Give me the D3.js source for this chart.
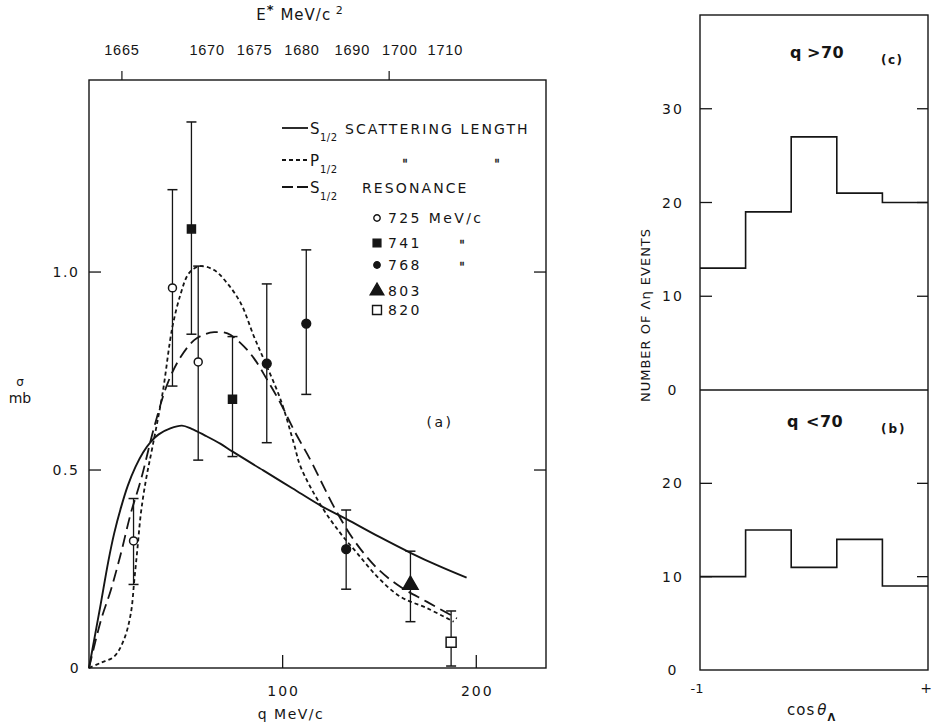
<!DOCTYPE html>
<html><head><meta charset="utf-8">
<script src="https://cdn.jsdelivr.net/npm/d3@7"></script>
<style>
body{margin:0;background:#fff;}
svg text{font-family:"DejaVu Sans",sans-serif;fill:#151515;}
</style></head><body>
<svg id="c" width="933" height="725"></svg>
<script>
// ---------- data ----------
// top axis: E* labels and the q value (MeV/c) under each label
const eStarLabels = ["1665","1670","1675","1680","1690","1700","1710"];
const eStarQ      = [17, 61, 85.5, 110, 136, 160.5, 184];
const eStarTickQ  = [17, 155];
const yTicksA     = [0, 0.5, 1.0];
const yTickLabA   = ["0", "0.5", "1.0"];
const xTicksA     = [100, 200];

// theory curves (q in MeV/c, sigma in mb)
const scatQ = [0, 3, 6, 10, 13, 16.5, 20, 24, 28, 32, 36, 42, 48, 53, 60, 68, 74, 90, 105, 120, 133, 150, 166, 180, 195];
const scatS = [0, 0.08, 0.16, 0.27, 0.34, 0.405, 0.46, 0.508, 0.545, 0.572, 0.59, 0.605, 0.612, 0.604, 0.587, 0.566, 0.547, 0.499, 0.454, 0.409, 0.376, 0.331, 0.291, 0.259, 0.228];
const pwaveQ = [0, 6, 13, 18, 21.6, 23.4, 25.1, 26.8, 29.4, 32.8, 38, 43.1, 47.4, 50.9, 54, 57.7, 64.6, 71.5, 78.4, 85.2, 90.4, 99, 105.8, 109.3, 119.6, 129.9, 138.5, 148.8, 160.8, 174.6, 188.3];
const pwaveS = [0, 0.013, 0.029, 0.071, 0.138, 0.222, 0.306, 0.391, 0.475, 0.559, 0.694, 0.862, 0.946, 0.992, 1.008, 1.015, 1.005, 0.971, 0.921, 0.837, 0.778, 0.677, 0.567, 0.508, 0.412, 0.340, 0.290, 0.231, 0.180, 0.151, 0.117];
const resQ = [0, 6.2, 11.3, 16.5, 21.6, 26.8, 33.7, 40.6, 47.4, 54.3, 60, 64.6, 71.5, 78.4, 85.2, 92.1, 99, 105.8, 114.4, 121, 126.5, 136.8, 148.8, 160.8, 174.6, 190];
const resS = [0, 0.121, 0.197, 0.29, 0.391, 0.475, 0.609, 0.719, 0.786, 0.828, 0.843, 0.848, 0.845, 0.820, 0.782, 0.727, 0.668, 0.601, 0.525, 0.46, 0.407, 0.323, 0.252, 0.205, 0.167, 0.125];

// measured points, per beam momentum
const q725 = [23.0, 43.1, 56.4],  s725 = [0.321, 0.960, 0.773], lo725 = [0.211, 0.712, 0.525], hi725 = [0.428, 1.208, 1.015];
const q741 = [52.9, 74.1],        s741 = [1.109, 0.679],        lo741 = [0.843, 0.534],        hi741 = [1.379, 0.837];
const q768 = [91.8, 112.2, 132.8],s768 = [0.769, 0.870, 0.300], lo768 = [0.569, 0.691, 0.199], hi768 = [0.970, 1.056, 0.399];
const q803 = [166],               s803 = [0.210],               lo803 = [0.117],               hi803 = [0.295];
const q820 = [187],               s820 = [0.065],               lo820 = [0.005],               hi820 = [0.144];

// histograms of cos(theta_Lambda)
const cosEdges   = [-1, -0.6, -0.2, 0.2, 0.6, 1];
const countsHigh = [13, 19, 27, 21, 20];   // q > 70
const countsLow  = [10, 15, 11, 14, 9];    // q < 70
const yTicksHigh = [0, 10, 20, 30];
const yTicksLow  = [0, 10, 20];

// ---------- drawing ----------
const svg = d3.select("#c");
const ink = "#151515";

// left panel scales
const L = {x0: 89, x1: 546, y0: 668, y1: 80};
const x = d3.scaleLinear([0, 236], [L.x0, L.x1]);
const y = d3.scaleLinear([0, 1.485], [L.y0, L.y1]);

const gA = svg.append("g");
gA.append("rect").attr("x", L.x0).attr("y", L.y1).attr("width", L.x1 - L.x0).attr("height", L.y0 - L.y1)
  .attr("fill", "none").attr("stroke", ink).attr("stroke-width", 1.4);

// y ticks (left inward & right inward)
yTicksA.filter(v => v > 0).forEach(v => {
  gA.append("line").attr("x1", L.x0).attr("x2", L.x0 + 12).attr("y1", y(v)).attr("y2", y(v)).attr("stroke", ink).attr("stroke-width", 1.3);
  gA.append("line").attr("x1", L.x1).attr("x2", L.x1 - 12).attr("y1", y(v)).attr("y2", y(v)).attr("stroke", ink).attr("stroke-width", 1.3);
});
yTicksA.forEach((v, i) => {
  gA.append("text").attr("x", v === 0 ? 75 : 66).attr("y", y(v)).attr("dy", "0.36em").attr("text-anchor", "middle")
    .style("font-size", "14px").style("letter-spacing", "1.5px").text(yTickLabA[i]);
});
// x ticks
xTicksA.forEach(v => {
  gA.append("line").attr("x1", x(v)).attr("x2", x(v)).attr("y1", L.y0).attr("y2", L.y0 - 13).attr("stroke", ink).attr("stroke-width", 1.3);
  gA.append("text").attr("x", x(v) + 1).attr("y", 696).attr("text-anchor", "middle")
    .style("font-size", "14px").style("letter-spacing", "2px").text(v);
});
gA.append("text").attr("x", 291).attr("y", 719).attr("text-anchor", "middle")
  .style("font-size", "14px").style("letter-spacing", "1.5px").text("q MeV/c");

// y label sigma / mb
gA.append("text").attr("x", 20).attr("y", 386).attr("text-anchor", "middle").style("font-size", "12px").text("σ");
gA.append("text").attr("x", 20).attr("y", 403).attr("text-anchor", "middle").style("font-size", "14px").text("mb");

// top axis (E*)
eStarTickQ.forEach(q => {
  gA.append("line").attr("x1", x(q)).attr("x2", x(q)).attr("y1", L.y1).attr("y2", L.y1 - 9).attr("stroke", ink).attr("stroke-width", 1.2);
});
eStarLabels.forEach((t, i) => {
  gA.append("text").attr("x", x(eStarQ[i])).attr("y", 55).attr("text-anchor", "middle")
    .style("font-family", "'Liberation Sans', sans-serif").style("font-size", "14.5px").style("letter-spacing", "0.8px").text(t);
});
const et = gA.append("text").attr("x", 300).attr("y", 20).attr("text-anchor", "middle").style("font-size", "15px").style("letter-spacing", "1px");
et.append("tspan").text("E");
et.append("tspan").attr("dy", -6).style("font-size", "13px").style("font-weight", "bold").text("*");
et.append("tspan").attr("dy", 6).text(" MeV/c");
et.append("tspan").attr("dy", -6).style("font-size", "11px").text(" 2");

// curves
const mk = (qs, ss) => qs.map((q, i) => [q, ss[i]]);
const line = d3.line().x(d => x(d[0])).y(d => y(d[1])).curve(d3.curveCatmullRom.alpha(0.5));
gA.append("path").attr("d", line(mk(scatQ, scatS))).attr("fill", "none").attr("stroke", ink).attr("stroke-width", 1.9);
gA.append("path").attr("d", line(mk(pwaveQ, pwaveS))).attr("fill", "none").attr("stroke", ink).attr("stroke-width", 1.8).attr("stroke-dasharray", "4,3");
gA.append("path").attr("d", line(mk(resQ, resS))).attr("fill", "none").attr("stroke", ink).attr("stroke-width", 1.8).attr("stroke-dasharray", "12,6");

// error bars & markers
const series = [
  {q: q725, s: s725, lo: lo725, hi: hi725, sym: d3.symbolCircle, size: 50, fill: "#fff"},
  {q: q741, s: s741, lo: lo741, hi: hi741, sym: d3.symbolSquare, size: 64, fill: ink},
  {q: q768, s: s768, lo: lo768, hi: hi768, sym: d3.symbolCircle, size: 60, fill: ink},
  {q: q803, s: s803, lo: lo803, hi: hi803, sym: d3.symbolTriangle, size: 100, fill: ink},
  {q: q820, s: s820, lo: lo820, hi: hi820, sym: d3.symbolSquare, size: 100, fill: "#fff"}
];
series.forEach(sr => {
  sr.q.forEach((q, i) => {
    const cx = x(q);
    gA.append("line").attr("x1", cx).attr("x2", cx).attr("y1", y(sr.lo[i])).attr("y2", y(sr.hi[i])).attr("stroke", ink).attr("stroke-width", 1.3);
    [sr.lo[i], sr.hi[i]].forEach(v => gA.append("line").attr("x1", cx - 5).attr("x2", cx + 5).attr("y1", y(v)).attr("y2", y(v)).attr("stroke", ink).attr("stroke-width", 1.5));
    gA.append("path").attr("d", d3.symbol(sr.sym, sr.size)()).attr("transform", `translate(${cx},${y(sr.s[i])})`)
      .attr("fill", sr.fill).attr("stroke", ink).attr("stroke-width", 1.5);
  });
});

// legend - lines
const legLines = [
  {y: 128, dash: null, main: "S", rest: "SCATTERING LENGTH", restX: 345},
  {y: 160, dash: "4,3", main: "P", rest: "", restX: 0},
  {y: 187, dash: "11,4", main: "S", rest: "RESONANCE", restX: 362}
];
legLines.forEach(r => {
  const l = gA.append("line").attr("x1", 282).attr("x2", 308).attr("y1", r.y).attr("y2", r.y).attr("stroke", ink).attr("stroke-width", 1.8);
  if (r.dash) l.attr("stroke-dasharray", r.dash);
  gA.append("text").attr("x", 310).attr("y", r.y + 6).style("font-size", "15px").text(r.main);
  gA.append("text").attr("x", 320).attr("y", r.y + 13).style("font-size", "10px").style("letter-spacing", "0.5px").text("1/2");
  if (r.rest) gA.append("text").attr("x", r.restX).attr("y", r.y + 6).style("font-size", "14px").style("letter-spacing", "2.1px").text(r.rest);
});
const ditto = (gx, gy) => gA.append("text").attr("x", gx).attr("y", gy).attr("text-anchor", "middle")
  .style("font-size", "12px").style("stroke", ink).style("stroke-width", "0.4px").style("opacity", 0.99).text("\"");
ditto(405, 168);
ditto(497, 168);

// legend - markers
const legMarks = [
  {y: 218, sr: series[0], txt: "725 MeV/c", ditto: false},
  {y: 243, sr: series[1], txt: "741", ditto: true},
  {y: 265, sr: series[2], txt: "768", ditto: true},
  {y: 291, sr: series[3], txt: "803", ditto: false},
  {y: 310, sr: series[4], txt: "820", ditto: false}
];
legMarks.forEach(m => {
  const sz = m.sr.sym === d3.symbolTriangle ? 80 : (m.sr.sym === d3.symbolCircle ? 32 : (m.sr.fill === "#fff" ? 80 : 60));
  gA.append("path").attr("d", d3.symbol(m.sr.sym, sz)()).attr("transform", `translate(377,${m.y})`)
    .attr("fill", m.sr.fill).attr("stroke", ink).attr("stroke-width", 1.4);
  gA.append("text").attr("x", 388).attr("y", m.y + 5).style("font-size", "14px").style("letter-spacing", "2.4px").text(m.txt);
  if (m.ditto) ditto(462, m.y + 6);
});
gA.append("text").attr("x", 440).attr("y", 427).attr("text-anchor", "middle").style("font-size", "14px").style("letter-spacing", "2.5px").text("(a)");

// ---------- right panel ----------
const R = {x0: 700, x1: 928, top: 15, mid: 390, bot: 670};
const xr = d3.scaleLinear([-1, 1], [R.x0, R.x1]);
const yc = d3.scaleLinear([0, 40], [R.mid, R.top]);
const yb = d3.scaleLinear([0, 30], [R.bot, R.mid]);
const gB = svg.append("g");
gB.append("rect").attr("x", R.x0).attr("y", R.top).attr("width", R.x1 - R.x0).attr("height", R.bot - R.top)
  .attr("fill", "none").attr("stroke", ink).attr("stroke-width", 1.4);
gB.append("line").attr("x1", R.x0).attr("x2", R.x1).attr("y1", R.mid).attr("y2", R.mid).attr("stroke", ink).attr("stroke-width", 1.4);

[[yTicksHigh, yc], [yTicksLow, yb]].forEach(([ticks, sc]) => {
  ticks.forEach(v => {
    if (v > 0) {
      gB.append("line").attr("x1", R.x0).attr("x2", R.x0 + 12).attr("y1", sc(v)).attr("y2", sc(v)).attr("stroke", ink).attr("stroke-width", 1.3);
      gB.append("line").attr("x1", R.x1).attr("x2", R.x1 - 11).attr("y1", sc(v)).attr("y2", sc(v)).attr("stroke", ink).attr("stroke-width", 1.3);
    }
    gB.append("text").attr("x", 673).attr("y", sc(v)).attr("dy", "0.36em").attr("text-anchor", "middle")
      .style("font-size", "14px").style("letter-spacing", "2px").text(v);
  });
});

const step = (counts, sc) => d3.line().x(d => xr(d[0])).y(d => sc(d[1])).curve(d3.curveStepAfter)(
  cosEdges.map((e, i) => [e, counts[Math.min(i, counts.length - 1)]]));
gB.append("path").attr("d", step(countsHigh, yc)).attr("fill", "none").attr("stroke", ink).attr("stroke-width", 1.6);
gB.append("path").attr("d", step(countsLow, yb)).attr("fill", "none").attr("stroke", ink).attr("stroke-width", 1.6);

// panel annotations
gB.append("text").attr("x", 790).attr("y", 58).style("font-size", "16px").style("font-weight", "bold").text("q");
gB.append("text").attr("x", 807).attr("y", 58).style("font-size", "16px").style("font-weight", "600").style("letter-spacing", "0.5px").text(">70");
gB.append("text").attr("x", 881).attr("y", 64).style("font-size", "12px").style("font-weight", "bold").style("letter-spacing", "1.5px").text("(c)");
gB.append("text").attr("x", 787).attr("y", 427).style("font-size", "16px").style("font-weight", "bold").text("q");
gB.append("text").attr("x", 806).attr("y", 427).style("font-size", "16px").style("font-weight", "600").style("letter-spacing", "0.5px").text("<70");
gB.append("text").attr("x", 881).attr("y", 433).style("font-size", "12px").style("font-weight", "bold").style("letter-spacing", "2px").text("(b)");

// axis labels
gB.append("text").attr("transform", "translate(650,315) rotate(-90)").attr("text-anchor", "middle")
  .style("font-size", "13px").style("letter-spacing", "1px").text("NUMBER OF Λη EVENTS");
gB.append("text").attr("x", xr(-1) - 3).attr("y", 693).attr("text-anchor", "middle").style("font-size", "13px").text("-1");
gB.append("text").attr("x", xr(1) - 2).attr("y", 693).attr("text-anchor", "middle").style("font-size", "14px").text("+");
const ct = gB.append("text").attr("x", 787).attr("y", 715).style("font-size", "15px").style("letter-spacing", "1px");
ct.append("tspan").text("cos");
ct.append("tspan").attr("dx", 2).style("font-style", "italic").text("θ");
ct.append("tspan").attr("dy", 6).style("font-size", "10px").style("font-weight", "bold").text("Λ");
</script>
</body></html>
